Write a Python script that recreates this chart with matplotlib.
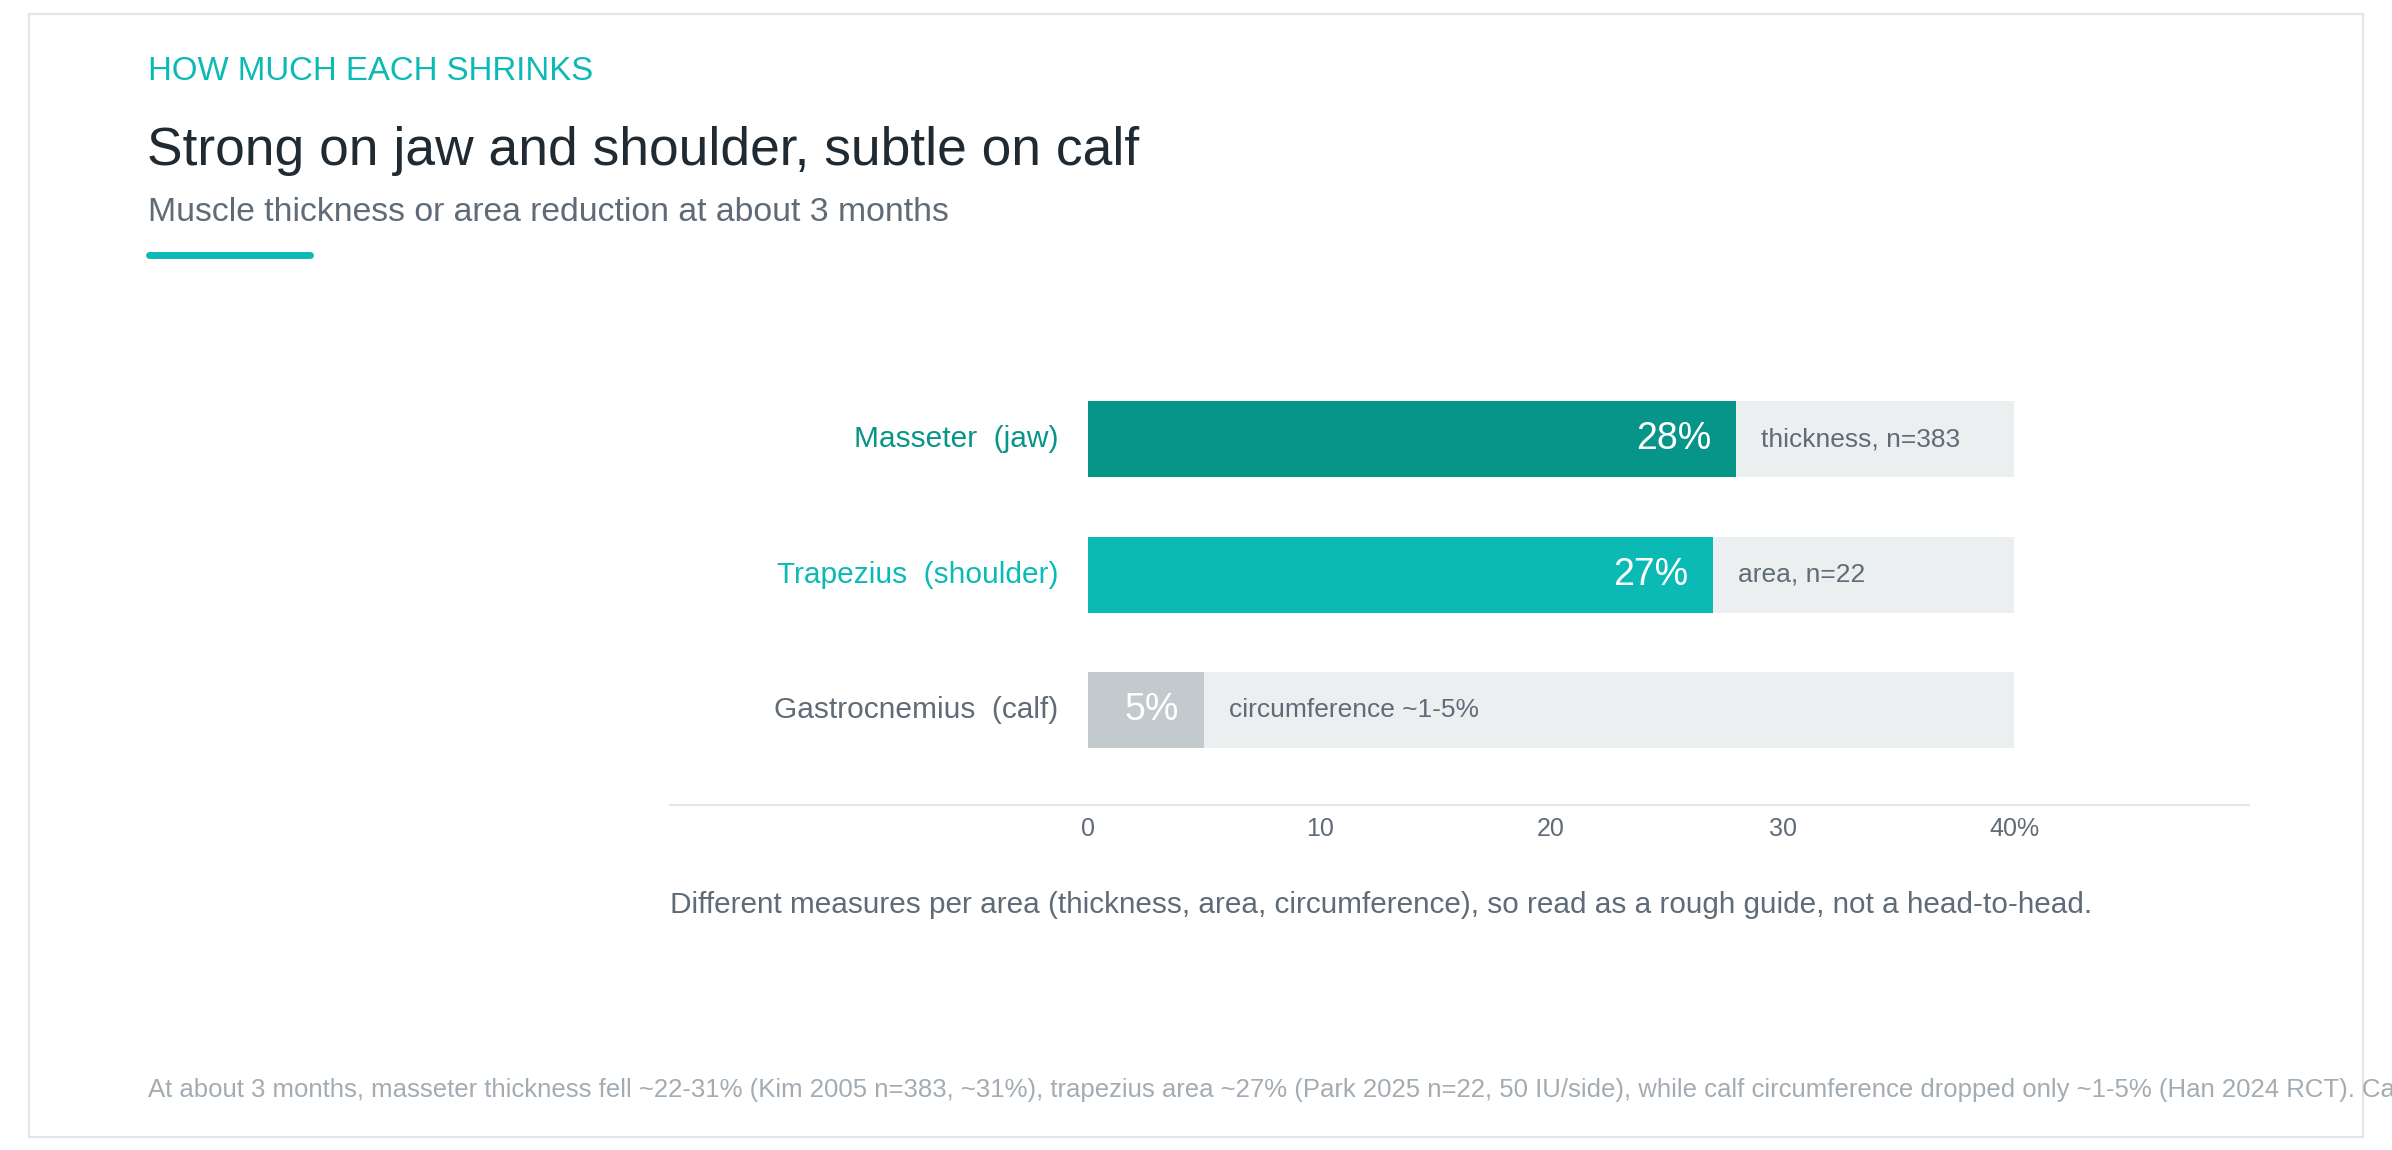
import matplotlib
matplotlib.use("Agg")
import matplotlib.pyplot as plt
from matplotlib.patches import Rectangle
from matplotlib.lines import Line2D

plt.rcParams['font.family'] = ['Liberation Sans', 'DejaVu Sans']

# Data
muscles = ['Masseter  (jaw)', 'Trapezius  (shoulder)', 'Gastrocnemius  (calf)']
reduction = [28, 27, 5]
notes = ['thickness, n=383', 'area, n=22', 'circumference ~1-5%']
scale_max = 40
ticks = [0, 10, 20, 30, 40]
tick_labels = ['0', '10', '20', '30', '40%']

bar_colors = ['#079589', '#0cbab5', '#c3cacd']
label_colors = ['#079589', '#0cbab5', '#5f6b76']
track_color = '#eceff0'
gray = '#5f6b76'
teal = '#0cbab5'

W, H = 2392, 1150
fig = plt.figure(figsize=(W / 100, H / 100), dpi=100)
fig.patch.set_facecolor('white')

# card border
fig.patches.append(Rectangle((29 / W, 1 - 1137 / H), (2363 - 29) / W, (1137 - 14) / H,
                             transform=fig.transFigure, facecolor='none',
                             edgecolor='#e3e6e9', linewidth=1.6))

# header
fig.text(148 / W, 1 - 80 / H, 'HOW MUCH EACH SHRINKS', color=teal, fontsize=23.8, va='baseline')
fig.text(147 / W, 1 - 165 / H, 'Strong on jaw and shoulder, subtle on calf', color='#1f2a33',
         fontsize=38.4, va='baseline')
fig.text(148 / W, 1 - 221 / H, 'Muscle thickness or area reduction at about 3 months', color=gray,
         fontsize=24.3, va='baseline')
fig.lines.append(Line2D([149 / W, 310 / W], [1 - 255 / H, 1 - 255 / H], transform=fig.transFigure,
                        color=teal, linewidth=5, solid_capstyle='round'))

# chart
ax = fig.add_axes([670 / W, 1 - 805 / H, 1579 / W, 455 / H])
ypos = list(range(len(muscles)))
ax.barh(ypos, [scale_max] * len(muscles), height=0.562, color=track_color)
ax.barh(ypos, reduction, height=0.562, color=bar_colors)

for y, name, val, note, lc in zip(ypos, muscles, reduction, notes, label_colors):
    ax.annotate(name, (0, y), xytext=(-21.5, 0), textcoords='offset points',
                ha='right', va='center', color=lc, fontsize=21.5)
    ax.annotate(f'{val}%', (val, y), xytext=(-18, 0), textcoords='offset points',
                ha='right', va='center', color='white', fontsize=27)
    ax.annotate(note, (val, y), xytext=(18, 0), textcoords='offset points',
                ha='left', va='center', color=gray, fontsize=19)

ax.set_xlim(-18.06, 50.15)
ax.set_ylim(2.702, -0.661)
ax.set_xticks(ticks)
ax.set_xticklabels(tick_labels)
ax.set_yticks([])
ax.tick_params(axis='x', length=0, pad=9, labelsize=18, labelcolor=gray)
for s in ['top', 'left', 'right']:
    ax.spines[s].set_visible(False)
ax.spines['bottom'].set_color('#e4e7ea')
ax.spines['bottom'].set_linewidth(1.5)
ax.set_facecolor('none')

fig.text(670 / W, 1 - 913 / H,
         'Different measures per area (thickness, area, circumference), so read as a rough guide, not a head-to-head.',
         color=gray, fontsize=21.4, va='baseline')

fig.text(148 / W, 1 - 1097 / H,
         'At about 3 months, masseter thickness fell ~22-31% (Kim 2005 n=383, ~31%), trapezius area ~27% '
         '(Park 2025 n=22, 50 IU/side), while calf circumference dropped only ~1-5% (Han 2024 RCT). Ca',
         color='#a3acb3', fontsize=18.5, va='baseline')

fig.savefig('out.png', dpi=100, facecolor='white')
